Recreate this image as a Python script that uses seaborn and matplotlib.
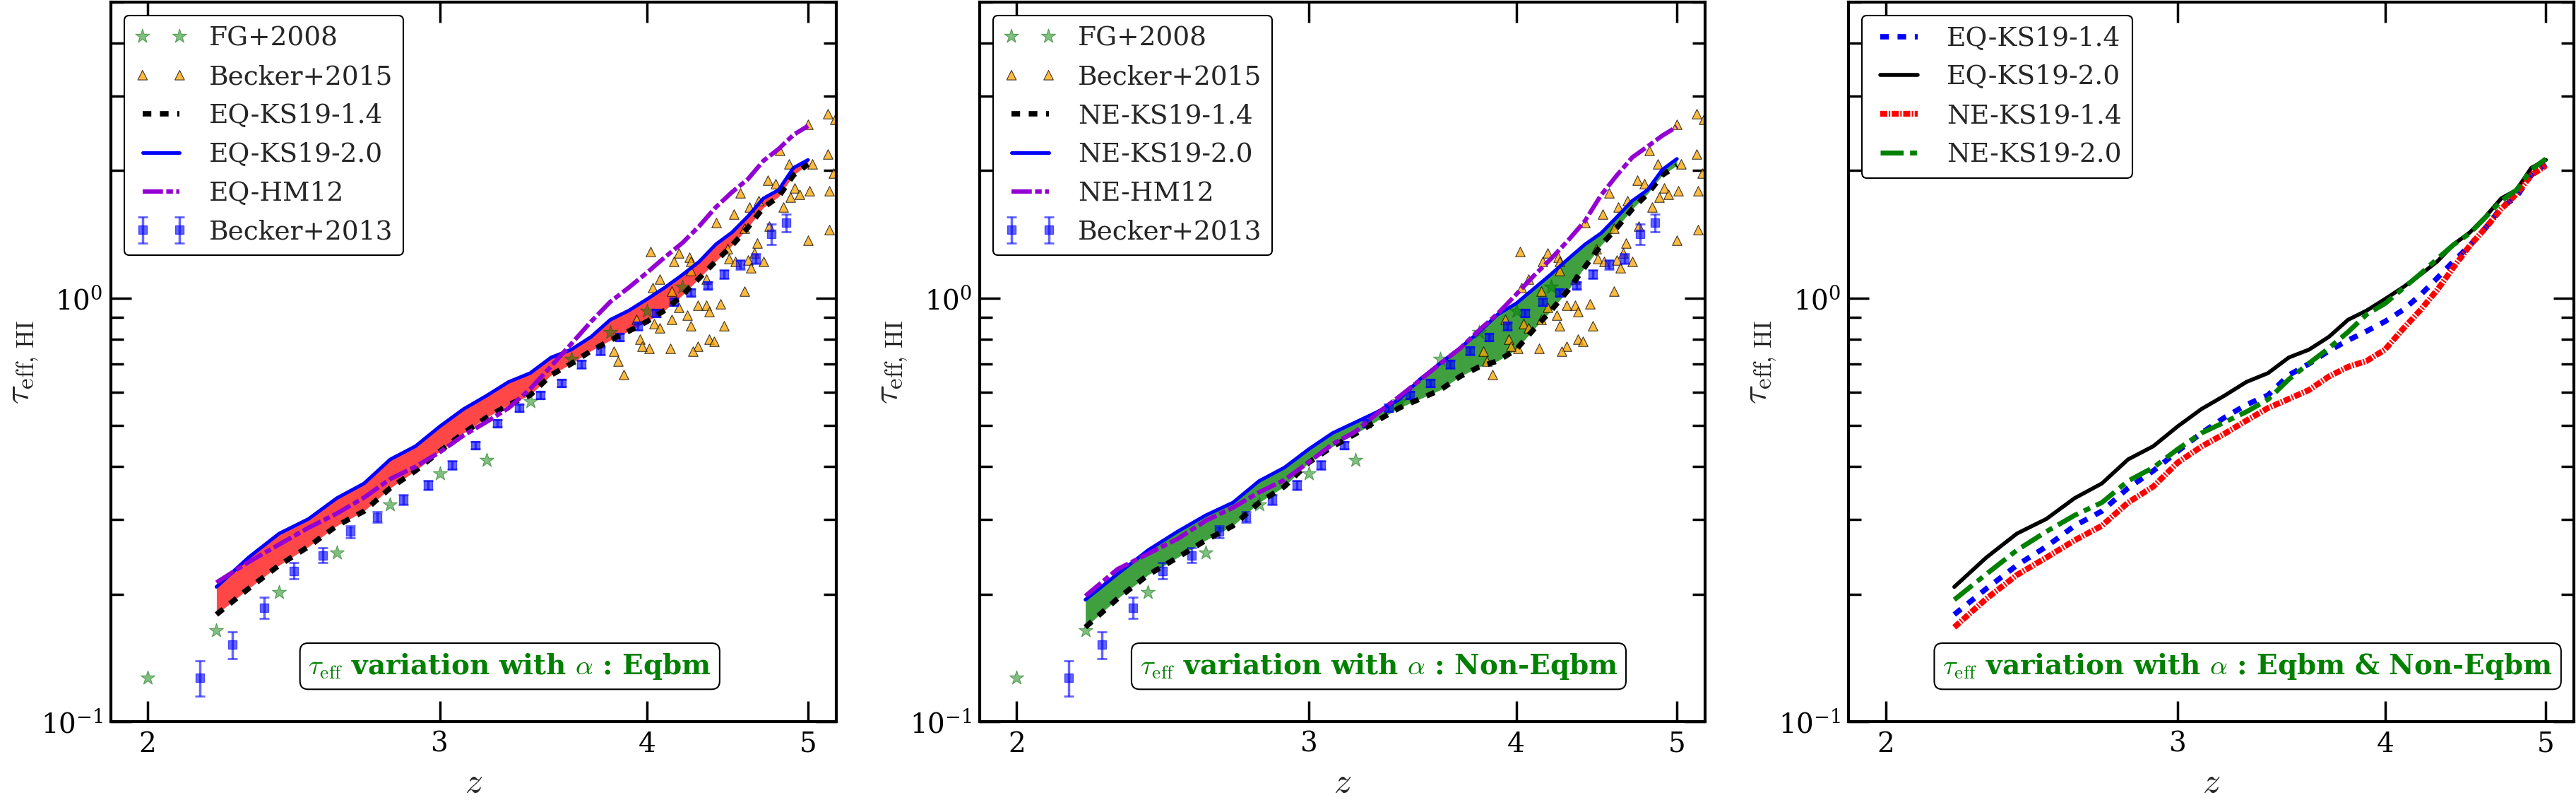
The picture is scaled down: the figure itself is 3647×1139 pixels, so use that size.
import numpy as np
import matplotlib
matplotlib.use("Agg")
import matplotlib.pyplot as plt
import seaborn as sns
from matplotlib.ticker import FormatStrFormatter, NullLocator, NullFormatter

# model redshift grid
Z_MOD = [2.2, 2.3, 2.4, 2.5, 2.6, 2.7, 2.8, 2.9, 3.0, 3.1, 3.2, 3.3, 3.4, 3.5, 3.6,
         3.7, 3.8, 3.9, 4.0, 4.1, 4.2, 4.3, 4.4, 4.5, 4.6, 4.7, 4.8, 4.9, 5.0]

EQ_KS19_14 = [0.179, 0.206, 0.234, 0.259, 0.290, 0.314, 0.356, 0.391, 0.435, 0.480,
              0.522, 0.560, 0.590, 0.658, 0.700, 0.751, 0.795, 0.836, 0.881, 0.937,
              1.016, 1.115, 1.223, 1.332, 1.468, 1.636, 1.735, 1.952, 2.071]
EQ_KS19_20 = [0.208, 0.244, 0.278, 0.301, 0.337, 0.365, 0.416, 0.447, 0.498, 0.547,
              0.588, 0.634, 0.665, 0.724, 0.756, 0.810, 0.889, 0.935, 0.995, 1.060,
              1.135, 1.220, 1.340, 1.430, 1.560, 1.720, 1.800, 2.030, 2.120]
NE_KS19_14 = [0.167, 0.195, 0.222, 0.244, 0.268, 0.290, 0.329, 0.359, 0.409, 0.446,
              0.478, 0.514, 0.550, 0.578, 0.607, 0.653, 0.688, 0.711, 0.756, 0.845,
              0.936, 1.045, 1.184, 1.332, 1.466, 1.624, 1.762, 1.952, 2.056]
NE_KS19_20 = [0.194, 0.223, 0.254, 0.281, 0.307, 0.329, 0.370, 0.398, 0.440, 0.480,
              0.509, 0.539, 0.576, 0.643, 0.702, 0.762, 0.832, 0.916, 0.971, 1.053,
              1.140, 1.238, 1.338, 1.423, 1.554, 1.698, 1.800, 2.011, 2.132]
EQ_HM12 = [0.213, 0.238, 0.262, 0.287, 0.310, 0.338, 0.374, 0.400, 0.433, 0.474,
           0.510, 0.550, 0.610, 0.690, 0.780, 0.880, 0.980, 1.060, 1.150, 1.250,
           1.350, 1.480, 1.640, 1.780, 1.910, 2.110, 2.250, 2.430, 2.550]
NE_HM12 = [0.198, 0.229, 0.249, 0.270, 0.298, 0.320, 0.348, 0.372, 0.410, 0.452,
           0.484, 0.535, 0.585, 0.640, 0.700, 0.760, 0.840, 0.920, 1.020, 1.130,
           1.240, 1.370, 1.520, 1.750, 1.950, 2.150, 2.280, 2.420, 2.540]

# Faucher-Giguere et al. 2008
Z_FG = [2.0, 2.2, 2.4, 2.6, 2.8, 3.0, 3.2, 3.4, 3.6, 3.8, 4.0, 4.2]
TAU_FG = [0.127, 0.164, 0.202, 0.251, 0.325, 0.385, 0.415, 0.571, 0.719, 0.832, 0.932, 1.063]

# Becker et al. 2015 (individual sightlines)
Z_B15 = [5.14, 5.19, 5.00, 4.81, 5.14, 4.87, 4.73, 4.78, 4.91, 5.01,
         5.15, 4.94, 4.88, 4.55, 4.83, 4.51, 4.40, 4.61, 4.67, 4.74,
         4.66, 5.00, 5.15, 4.64, 4.58, 4.02, 4.18, 4.07, 4.15, 4.24,
         4.25, 4.48, 4.52, 4.60, 4.70, 4.58, 4.43, 4.29, 4.34, 4.36,
         4.18, 4.03, 4.14, 4.25, 4.45, 4.04, 4.07, 4.36, 4.39, 4.29,
         4.26, 4.13, 4.01, 3.96, 3.97, 4.14, 4.25, 4.34, 4.47, 3.87,
         3.82, 3.84, 5.18, 5.03, 4.62, 4.23, 3.94]
TAU_B15 = [2.72, 2.64, 2.57, 2.23, 2.19, 2.07, 1.90, 1.86, 1.82, 1.79,
           1.79, 1.76, 1.73, 1.77, 1.64, 1.58, 1.51, 1.64, 1.70, 1.48,
           1.35, 1.37, 1.45, 1.28, 1.46, 1.29, 1.28, 1.11, 1.22, 1.25,
           1.22, 1.24, 1.22, 1.23, 1.22, 1.04, 0.97, 0.96, 0.96, 0.93,
           0.95, 1.06, 0.89, 0.86, 0.86, 0.87, 0.85, 0.80, 0.79, 0.77,
           0.75, 0.76, 0.76, 0.80, 0.77, 1.04, 1.16, 1.11, 1.31, 0.66,
           0.75, 0.71, 1.97, 2.07, 1.18, 0.91, 0.89]

# Becker et al. 2013
Z_B13 = [2.15, 2.25, 2.35, 2.45, 2.55, 2.65, 2.75, 2.85, 2.95, 3.05, 3.15, 3.25, 3.35, 3.45,
         3.55, 3.65, 3.75, 3.85, 3.95, 4.05, 4.15, 4.25, 4.35, 4.45, 4.55, 4.65, 4.75, 4.85]
TAU_B13 = [0.127, 0.152, 0.186, 0.227, 0.247, 0.281, 0.304, 0.334, 0.362, 0.404, 0.449, 0.506,
           0.551, 0.590, 0.630, 0.698, 0.751, 0.808, 0.859, 0.923, 0.980, 1.030, 1.070, 1.138,
           1.200, 1.240, 1.418, 1.506]
ERR_B13 = [0.012, 0.011, 0.011, 0.010, 0.010, 0.009, 0.009, 0.009, 0.009, 0.009, 0.009, 0.010,
           0.011, 0.012, 0.013, 0.014, 0.015, 0.016, 0.017, 0.018, 0.019, 0.020, 0.020, 0.025,
           0.030, 0.035, 0.080, 0.070]

BOX_TEXT = [r'$\tau_{\rm eff}$ variation with $\alpha$ : Eqbm',
            r'$\tau_{\rm eff}$ variation with $\alpha$ : Non-Eqbm',
            r'$\tau_{\rm eff}$ variation with $\alpha$ : Eqbm & Non-Eqbm']

DOT = (0, (1.6, 1.6))
HMDASH = (0, (4.6, 0.75, 1.5, 0.75))
REDDASH = (0, (1.2, 0.25, 0.25, 0.25))
GREENDASH = (0, (4.7, 1.3, 1.4, 1.3))

sns.set_style("ticks")
plt.rcParams.update({
    'font.family': ['DejaVu Serif'],
    'mathtext.fontset': 'cm',
    'axes.edgecolor': 'black',
    'axes.linewidth': 3,
    'xtick.direction': 'in', 'ytick.direction': 'in',
    'xtick.top': True, 'ytick.right': True,
    'xtick.major.size': 21, 'xtick.major.width': 2.5,
    'ytick.major.size': 21, 'ytick.major.width': 2.5,
    'ytick.minor.size': 13, 'ytick.minor.width': 2.5,
    'xtick.color': 'black', 'ytick.color': 'black',
    'xtick.labelsize': 28, 'ytick.labelsize': 28,
    'xtick.major.pad': 10, 'ytick.major.pad': 8,
    'legend.fontsize': 27,
})


def add_data(ax):
    sns.scatterplot(x=Z_FG, y=TAU_FG, marker='*', s=230, color='green', alpha=0.5,
                    edgecolor='darkgreen', linewidth=0.8, ax=ax, label='FG+2008', zorder=2)
    sns.scatterplot(x=Z_B15, y=TAU_B15, marker='^', s=95, color='orange', alpha=0.75,
                    edgecolor='black', linewidth=0.8, ax=ax, label='Becker+2015', zorder=2)
    eb = ax.errorbar(Z_B13, TAU_B13, yerr=ERR_B13, fmt='s', color='blue', alpha=0.6, ms=8,
                     capsize=5, elinewidth=2.5, capthick=2, label='Becker+2013', zorder=2)
    return eb


def add_line(ax, y, color, lw, ls, label):
    sns.lineplot(x=Z_MOD, y=y, color=color, lw=lw, linestyle=ls, label=label,
                 ax=ax, errorbar=None, sort=False, zorder=3)
    return ax.lines[-1]


def style_axis(ax, text):
    ax.set_xscale('log')
    ax.set_yscale('log')
    ax.set_xlim(1.9, 5.2)
    ax.set_ylim(0.1, 5.0)
    ax.set_xticks([2, 3, 4, 5])
    ax.xaxis.set_major_formatter(FormatStrFormatter('%d'))
    ax.xaxis.set_minor_locator(NullLocator())
    ax.yaxis.set_minor_formatter(NullFormatter())
    ax.set_xlabel(r'$z$', fontsize=36, labelpad=8)
    ax.set_ylabel(r'$\tau_{\rm eff,\,HI}$', fontsize=36, labelpad=0)
    ax.text(0.55, 0.077, text, transform=ax.transAxes, ha='center', va='center',
            color='green', fontsize=28, fontweight='bold', zorder=5,
            bbox=dict(boxstyle='round,pad=0.3', fc='white', ec='black', lw=1.5))


def make_legend(ax, handles):
    ax.legend(handles=handles, labels=[h.get_label() for h in handles], loc='upper left',
              numpoints=2, scatterpoints=2, scatteryoffsets=[0.5], frameon=True,
              fancybox=True, framealpha=1, edgecolor='black', handlelength=2.0)
    ax.get_legend().get_frame().set_linewidth(1.5)


fig, axes = plt.subplots(1, 3, figsize=(36.48, 11.39), dpi=100)
fig.subplots_adjust(left=0.043, right=0.999, bottom=0.1036, top=0.9974, wspace=0.1977)

# panel 1: equilibrium
ax = axes[0]
ax.fill_between(Z_MOD, EQ_KS19_14, EQ_KS19_20, color='red', alpha=0.72, lw=0, zorder=1)
add_data(ax)
l1 = add_line(ax, EQ_KS19_14, 'black', 5.5, DOT, 'EQ-KS19-1.4')
l2 = add_line(ax, EQ_KS19_20, 'blue', 3.6, '-', 'EQ-KS19-2.0')
l3 = add_line(ax, EQ_HM12, 'darkviolet', 4.5, HMDASH, 'EQ-HM12')
style_axis(ax, BOX_TEXT[0])
h, lab = ax.get_legend_handles_labels()
hd = dict(zip(lab, h))
make_legend(ax, [hd['FG+2008'], hd['Becker+2015'], l1, l2, l3, hd['Becker+2013']])

# panel 2: non-equilibrium
ax = axes[1]
ax.fill_between(Z_MOD, NE_KS19_14, NE_KS19_20, color='green', alpha=0.75, lw=0, zorder=1)
add_data(ax)
l1 = add_line(ax, NE_KS19_14, 'black', 5.5, DOT, 'NE-KS19-1.4')
l2 = add_line(ax, NE_KS19_20, 'blue', 3.6, '-', 'NE-KS19-2.0')
l3 = add_line(ax, NE_HM12, 'darkviolet', 4.5, HMDASH, 'NE-HM12')
style_axis(ax, BOX_TEXT[1])
h, lab = ax.get_legend_handles_labels()
hd = dict(zip(lab, h))
make_legend(ax, [hd['FG+2008'], hd['Becker+2015'], l1, l2, l3, hd['Becker+2013']])

# panel 3: comparison
ax = axes[2]
l1 = add_line(ax, EQ_KS19_14, 'blue', 5.5, DOT, 'EQ-KS19-1.4')
l2 = add_line(ax, EQ_KS19_20, 'black', 4.0, '-', 'EQ-KS19-2.0')
l3 = add_line(ax, NE_KS19_14, 'red', 6.0, REDDASH, 'NE-KS19-1.4')
l4 = add_line(ax, NE_KS19_20, 'green', 5.0, GREENDASH, 'NE-KS19-2.0')
style_axis(ax, BOX_TEXT[2])
make_legend(ax, [l1, l2, l3, l4])

fig.savefig('out.png', dpi=100)
